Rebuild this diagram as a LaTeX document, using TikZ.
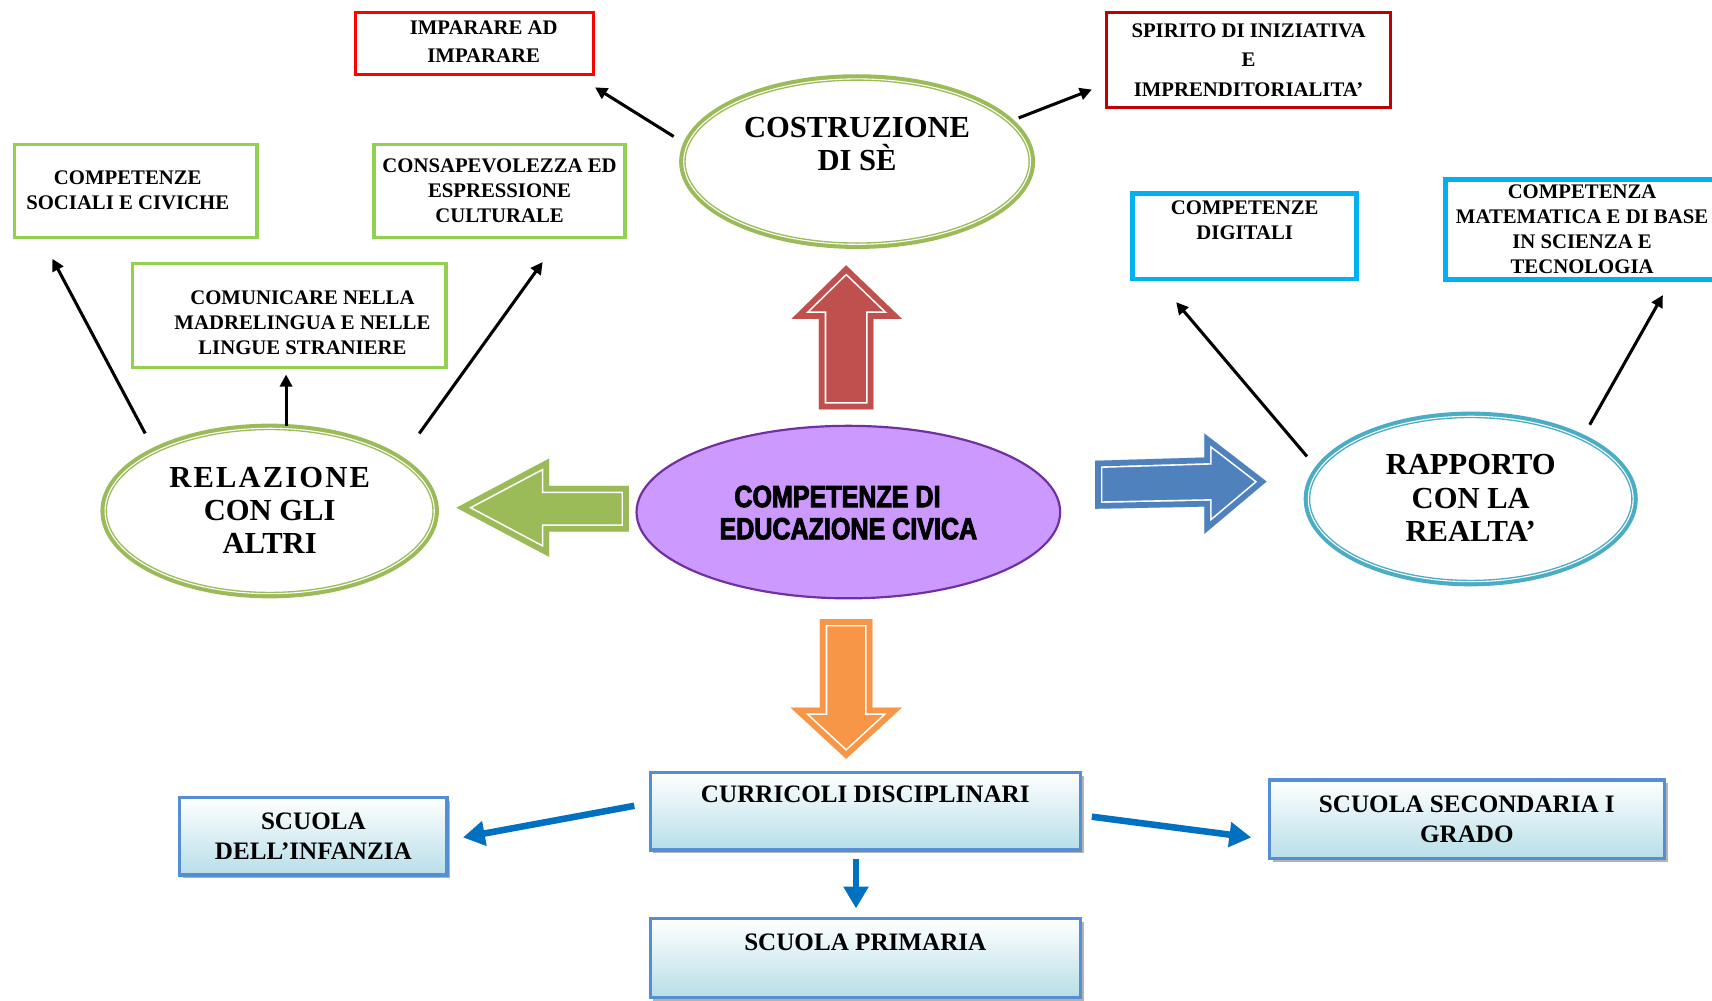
\documentclass[tikz,border=0pt]{standalone}
\usepackage{fontspec}
\setmainfont{Liberation Serif}
\newfontfamily\impactfont[FakeStretch=0.82,FakeBold=3]{Liberation Sans}
\usetikzlibrary{arrows.meta,shadows,shapes.geometric}
\definecolor{redA}{HTML}{FF0000}
\definecolor{redB}{HTML}{C00000}
\definecolor{gbox}{HTML}{92D050}
\definecolor{cyanbox}{HTML}{00B0F0}
\definecolor{ogreen}{HTML}{9BBB59}
\definecolor{aqua}{HTML}{4BACC6}
\definecolor{purpfill}{HTML}{CC99FF}
\definecolor{purpline}{HTML}{7030A0}
\definecolor{arred}{HTML}{C0504D}
\definecolor{arorange}{HTML}{F79646}
\definecolor{arblue}{HTML}{4F81BD}
\definecolor{lineblue}{HTML}{0070C0}
\definecolor{bord}{HTML}{558ED5}
\definecolor{bfill}{HTML}{B7DEE8}
\newcommand\blockarrow[2]{%
  \fill[#1] #2;
  \begin{scope}
    \clip #2;
    \draw[white,line width=13.5pt,line join=miter] #2;
    \draw[#1,line width=10.5pt,line join=miter] #2;
  \end{scope}}
\begin{document}
\begin{tikzpicture}[x=1pt,y=-1pt,
  stxt/.style={align=center,font=\fontsize{19}{23}\selectfont\bfseries,inner sep=0pt},
  sbox/.style={stxt,draw,line width=3pt,rectangle},
  etxt/.style={align=center,font=\fontsize{28}{30.5}\selectfont\bfseries,inner sep=0pt},
  ellip/.style={ellipse,draw=#1,line width=6pt,inner sep=0pt},
  btxt/.style={align=center,font=\fontsize{23}{27}\selectfont\bfseries,inner sep=0pt},
  bbox/.style={btxt,rectangle,draw=bord,line width=3pt,top color=white,bottom color=bfill,
     drop shadow={shadow xshift=3pt,shadow yshift=-3pt,fill=black!50,opacity=.6}},
  arr/.style={line width=2.8pt,-{Triangle[length=11pt,width=11pt]}},
  barr/.style={lineblue,line width=6pt,-{Triangle[length=20pt,width=22pt]}}]
\useasboundingbox (0,0) rectangle (1568,916);

% block arrows
\blockarrow{arred}{(750,375)--(750,292)--(725,292)--(775,243)--(826,292)--(800,292)--(800,375)--cycle}
\blockarrow{arorange}{(751,567)--(799,567)--(799,648)--(826,648)--(775,695)--(724,648)--(751,648)--cycle}
\blockarrow{ogreen}{(576,445)--(503,445)--(503,420)--(418,465)--(503,510)--(503,487)--(576,487)--cycle}
\blockarrow{arblue}{(1003,422)--(1103,419)--(1103,397)--(1160,441)--(1103,489)--(1103,464)--(1003,466)--cycle}

% top boxes
\node[sbox,draw=redA,minimum width=218pt,minimum height=57pt] (imp) at (434.5,40) {};
\node[stxt] (impt) at (443,38) {IMPARARE AD\\[3pt]IMPARARE};
\node[sbox,draw=redB,minimum width=260pt,minimum height=87pt] (spi) at (1143.5,55) {SPIRITO DI INIZIATIVA\\[4pt]E\\[4pt]IMPRENDITORIALITA’};
\node[sbox,draw=gbox,minimum width=222pt,minimum height=85pt] (soc) at (124.5,175) {};
\node[stxt] (soct) at (117,174.5) {COMPETENZE\\SOCIALI E CIVICHE};
\node[sbox,draw=gbox,minimum width=230pt,minimum height=85pt] (con) at (457.5,175) {CONSAPEVOLEZZA ED\\ESPRESSIONE\\CULTURALE};
\node[sbox,draw=gbox,minimum width=287pt,minimum height=95pt] (com) at (265,289) {};
\node[stxt] (comt) at (277,295.5) {COMUNICARE NELLA\\MADRELINGUA E NELLE\\LINGUE STRANIERE};
\node[sbox,draw=cyanbox,line width=4.5pt,minimum width=205pt,minimum height=78pt] (dig) at (1140,216.5) {};
\node[stxt,anchor=north] (digt) at ([yshift=-8pt]dig.north) {COMPETENZE\\DIGITALI};
\node[sbox,draw=cyanbox,line width=4.5pt,minimum width=250pt,minimum height=92pt] (mat) at (1449,210) {COMPETENZA\\MATEMATICA E DI BASE\\IN SCIENZA E\\TECNOLOGIA};

% ellipses
\node[ellip=ogreen,minimum width=320pt,minimum height=154pt] (cos) at (785,148) {};
\draw[white,line width=1pt] (cos.center) ellipse [x radius=158.75pt,y radius=75.75pt];
\node[etxt] (cost) at (785,132) {COSTRUZIONE\\DI SÈ};

\node[ellip=ogreen,minimum width=304pt,minimum height=154pt] (rel) at (247,468) {};
\draw[white,line width=1pt] (rel.center) ellipse [x radius=150.75pt,y radius=75.75pt];
\node[etxt] (relt) at (247,467.5) {{\addfontfeatures{LetterSpace=7}RELAZIONE}\\CON GLI\\ALTRI};

\node[ellip=aqua,minimum width=300pt,minimum height=154pt] (rap) at (1347,457) {};
\draw[white,line width=1pt] (rap.center) ellipse [x radius=148.75pt,y radius=75.75pt];
\node[etxt] (rapt) at (1347,456) {RAPPORTO\\CON LA\\REALTA’};

\node[ellipse,draw=purpline,line width=2pt,fill=purpfill,minimum width=388pt,minimum height=158pt,inner sep=0pt] (mid) at (777,469) {};
\node[align=center,inner sep=0pt,font=\impactfont\bfseries\fontsize{28}{29.5}\selectfont] (midt) at (777,469.5) {COMPETENZE DI\hspace*{20pt}\null\\EDUCAZIONE CIVICA};

% bottom boxes
\node[bbox,minimum width=394pt,minimum height=71pt] (cur) at (792.5,743) {};
\node[btxt,anchor=north] (curt) at ([yshift=-14pt]cur.north) {CURRICOLI DISCIPLINARI};
\node[bbox,minimum width=245pt,minimum height=71pt] (inf) at (287,766) {SCUOLA\\DELL’INFANZIA};
\node[bbox,minimum width=394pt,minimum height=72pt] (pri) at (792.5,877.5) {};
\node[btxt,anchor=north] (prit) at ([yshift=-15pt]pri.north) {SCUOLA PRIMARIA};
\node[bbox,minimum width=362pt,minimum height=72pt] (sec) at (1343.5,750.5) {SCUOLA SECONDARIA I\\GRADO};

% black connectors
\draw[arr] ([shift={(-168pt,23pt)}]cos.center) -- ([shift={(0pt,-10pt)}]imp.south east);
\draw[arr] ([shift={(148pt,40pt)}]cos.center) -- ([shift={(-12pt,18pt)}]spi.south west);
\draw[arr] ([shift={(-114pt,71pt)}]rel.center) -- ([shift={(36pt,-18pt)}]soc.south west);
\draw[arr] ([shift={(15pt,78pt)}]rel.center) -- ([shift={(-3pt,-5pt)}]com.south);
\draw[arr] ([shift={(137pt,71pt)}]rel.center) -- ([shift={(-77pt,-21pt)}]con.south east);
\draw[arr] ([shift={(-150pt,39pt)}]rap.center) -- ([shift={(42pt,-19pt)}]dig.south west);
\draw[arr] ([shift={(109pt,68pt)}]rap.center) -- ([shift={(74pt,-12pt)}]mat.south);

% blue connectors
\draw[barr] ([shift={(-13pt,5pt)}]cur.west) -- ([shift={(13pt,-1pt)}]inf.east);
\draw[barr] ([shift={(9pt,-5pt)}]cur.east) -- ([shift={(-15pt,-16.5pt)}]sec.west);
\draw[barr] ([shift={(-8.5pt,-7pt)}]cur.south) -- ([shift={(-8.5pt,8pt)}]pri.north);
\end{tikzpicture}
\end{document}
